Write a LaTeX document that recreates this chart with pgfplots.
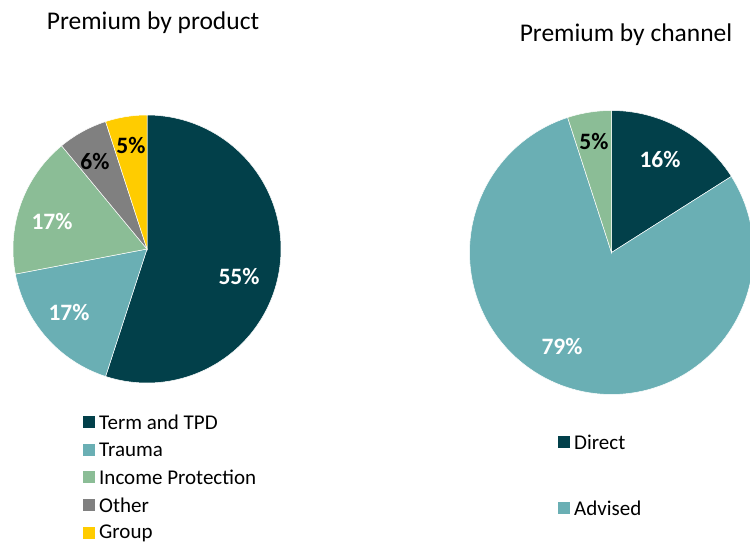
\documentclass[border=0pt]{standalone}
\usepackage{pgfplots}
\pgfplotsset{compat=1.18}
\usepackage{fontspec}
\setmainfont{Carlito}
\definecolor{cTerm}{HTML}{02404A}
\definecolor{cTrauma}{HTML}{6AAFB4}
\definecolor{cIP}{HTML}{8BBD96}
\definecolor{cOther}{HTML}{808080}
\definecolor{cGroup}{HTML}{FFCC00}
% slice: cx, cy, r, start %, end %, colour
\newcommand{\slice}[6]{%
  \addplot[fill=#6, draw=white, line width=0.5bp, domain={90-3.6*#5}:{90-3.6*#4}, samples=120, variable=\t]
    ({#1+#3*cos(\t)}, {#2-#3*sin(\t)}) -- (axis cs:#1,#2) -- cycle;
}
\newcommand{\lab}[4]{\node[inner sep=0pt, text=#3, font=\fontsize{23.5bp}{27bp}\selectfont\bfseries] at (axis cs:#1,#2) {#4};}
\newcommand{\legitem}[4]{%
  \fill[#3] (axis cs:#1,{#2-6}) rectangle (axis cs:{#1+12},{#2+6});
  \node[anchor=west, inner sep=0pt, font=\fontsize{21bp}{25bp}\selectfont] at (axis cs:{#1+16},{#2+0.5}) {#4};
}
\begin{document}
\begin{tikzpicture}
\begin{axis}[
  width=750bp, height=545bp, scale only axis,
  xmin=0, xmax=750, ymin=0, ymax=545, y dir=reverse,
  hide axis, clip=true,
]
% Premium by product: Term and TPD 55, Trauma 17, Income Protection 17, Other 6, Group 5
\slice{147}{249}{134}{0}{55}{cTerm}
\slice{147}{249}{134}{55}{72}{cTrauma}
\slice{147}{249}{134}{72}{89}{cIP}
\slice{147}{249}{134}{89}{95}{cOther}
\slice{147}{249}{134}{95}{100}{cGroup}
% Premium by channel: Direct 16, Advised 79, other 5
\slice{611.5}{252.5}{142}{0}{16}{cTerm}
\slice{611.5}{252.5}{142}{16}{95}{cTrauma}
\slice{611.5}{252.5}{142}{95}{100}{cIP}
\lab{239}{276}{white}{55\%}
\lab{69}{312}{white}{17\%}
\lab{52}{221}{white}{17\%}
\lab{95}{161}{black}{6\%}
\lab{131}{145}{black}{5\%}
\lab{660}{159}{white}{16\%}
\lab{594}{141}{black}{5\%}
\lab{562}{346}{white}{79\%}
\node[anchor=base, inner sep=0pt, font=\fontsize{25.5bp}{30bp}\selectfont] at (axis cs:153,30) {Premium by product};
\node[anchor=base, inner sep=0pt, font=\fontsize{25.5bp}{30bp}\selectfont] at (axis cs:626,41.7) {Premium by channel};
\legitem{83}{421.7}{cTerm}{Term and TPD}
\legitem{83}{449.5}{cTrauma}{Trauma}
\legitem{83}{477.3}{cIP}{Income Protection}
\legitem{83}{505.1}{cOther}{Other}
\legitem{83}{532.9}{cGroup}{Group}
\legitem{558}{441.7}{cTerm}{Direct}
\legitem{558}{507.7}{cTrauma}{Advised}
\end{axis}
\pgfresetboundingbox
\useasboundingbox (current axis.south west) rectangle (current axis.north east);
\end{tikzpicture}
\end{document}
